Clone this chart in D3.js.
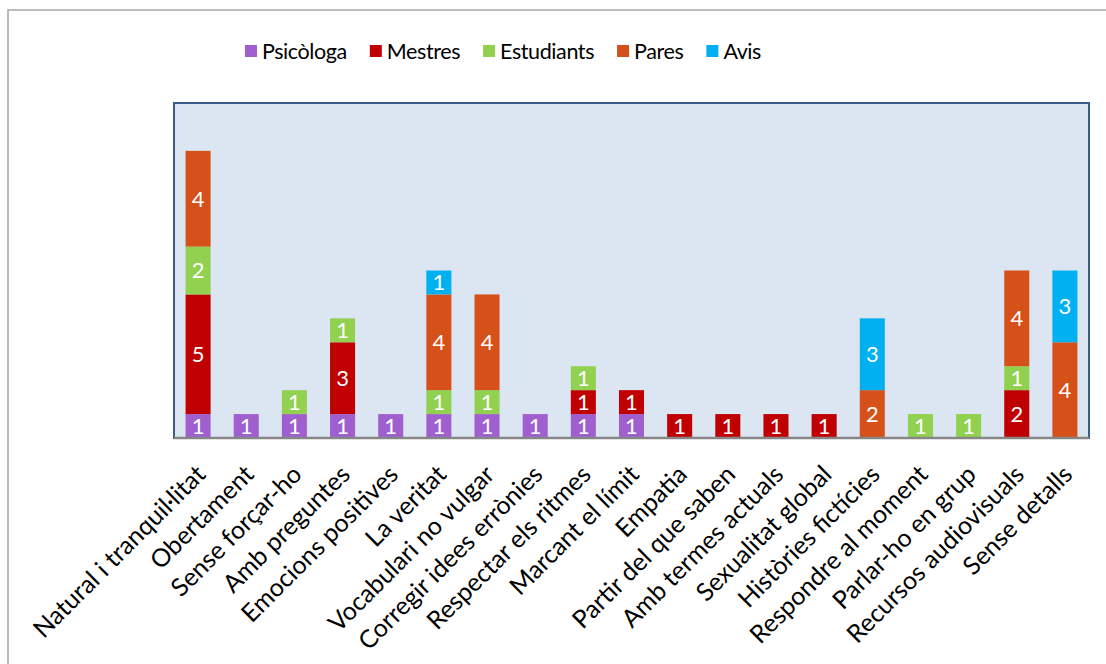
<!DOCTYPE html>
<html>
<head>
<meta charset="utf-8">
<script src="https://cdn.jsdelivr.net/npm/d3@7"></script>
<style>
  html, body { margin: 0; padding: 0; background: #fff; }
  svg { display: block; }
  text { font-family: Lato, "Open Sans", sans-serif; }
</style>
</head>
<body>
<svg id="chart" width="1106" height="664"></svg>
<script>
const categories = [
  "Natural i tranquil·litat", "Obertament", "Sense forçar-ho", "Amb preguntes",
  "Emocions positives", "La veritat", "Vocabulari no vulgar", "Corregir idees errònies",
  "Respectar els  ritmes", "Marcant el límit", "Empatia", "Partir del que saben",
  "Amb termes actuals", "Sexualitat global", "Històries fictícies", "Respondre al moment",
  "Parlar-ho en grup", "Recursos audiovisuals", "Sense detalls"
];
const seriesNames = ["Psicòloga", "Mestres", "Estudiants", "Pares", "Avis"];
const psicologa  = [1,1,1,1,1,1,1,1,1,1,0,0,0,0,0,0,0,0,0];
const mestres    = [5,0,0,3,0,0,0,0,1,1,1,1,1,1,0,0,0,2,0];
const estudiants = [2,0,1,1,0,1,1,0,1,0,0,0,0,0,0,1,1,1,0];
const pares      = [4,0,0,0,0,4,4,0,0,0,0,0,0,0,2,0,0,4,4];
const avis       = [0,0,0,0,0,1,0,0,0,0,0,0,0,0,3,0,0,0,3];
const colors = ["#A05FCE", "#C00000", "#92D050", "#D6511A", "#00B0F0"];
const yDomain = [0, 14];

const seriesValues = [psicologa, mestres, estudiants, pares, avis];
const table = categories.map((c, i) => {
  const row = { cat: c };
  seriesNames.forEach((s, k) => row[s] = seriesValues[k][i]);
  return row;
});

const svg = d3.select("#chart");
const plot = { left: 174, top: 103, right: 1089, bottom: 438 };

// outer chart border
svg.append("rect")
  .attr("x", 8).attr("y", 10).attr("width", 1120).attr("height", 700)
  .attr("fill", "#fff").attr("stroke", "#A6A6A6").attr("stroke-width", 1.5);

const x = d3.scaleBand().domain(categories)
  .range([plot.left, plot.right]).paddingInner(0.48).paddingOuter(0.24);
const y = d3.scaleLinear().domain(yDomain).range([plot.bottom, plot.top]);

// plot area
svg.append("rect")
  .attr("x", plot.left).attr("y", plot.top)
  .attr("width", plot.right - plot.left).attr("height", plot.bottom - plot.top)
  .attr("fill", "#DCE6F2").attr("stroke", "#385D8A").attr("stroke-width", 2);

const stack = d3.stack().keys(seriesNames)(table);

const g = svg.append("g");
stack.forEach((layer, k) => {
  const lg = g.append("g").attr("fill", colors[k]);
  layer.forEach((d, i) => {
    const v = d[1] - d[0];
    if (v <= 0) return;
    const cat = categories[i];
    lg.append("rect")
      .attr("x", x(cat)).attr("width", x.bandwidth())
      .attr("y", y(d[1])).attr("height", y(d[0]) - y(d[1]));
    g.append("text")
      .attr("x", x(cat) + x.bandwidth() / 2)
      .attr("y", (y(d[0]) + y(d[1])) / 2)
      .attr("dy", "0.36em")
      .attr("text-anchor", "middle")
      .attr("fill", "#fff")
      .attr("font-size", 22)
      .text(v);
  });
});

// x axis
const xAxis = d3.axisBottom(x).tickSize(0).tickPadding(0);
const ax = svg.append("g").attr("transform", `translate(0,${plot.bottom})`).call(xAxis);
ax.select(".domain").attr("stroke", "#868686").attr("stroke-width", 2.5)
  .attr("d", `M${plot.left},0H${plot.right}`);
ax.selectAll(".tick text")
  .attr("font-family", "Lato, 'Open Sans', sans-serif")
  .attr("font-size", 25)
  .attr("fill", "#000")
  .attr("text-anchor", "end")
  .attr("y", 0).attr("dy", 0)
  .attr("transform", "translate(9,38) rotate(-45)");

// legend
const legend = svg.append("g");
let lx = 0;
seriesNames.forEach((s, k) => {
  const it = legend.append("g");
  it.append("rect").attr("x", 0).attr("y", -6).attr("width", 12).attr("height", 12).attr("fill", colors[k]);
  const t = it.append("text").attr("x", 17).attr("y", 0).attr("dy", "0.36em")
    .attr("font-size", 21.5).attr("letter-spacing", -0.4).attr("fill", "#000").text(s);
  const w = 17 + t.node().getComputedTextLength();
  it.attr("transform", `translate(${lx},0)`);
  lx += w + 23;
});
const totalW = lx - 23;
legend.attr("transform", `translate(${503 - totalW / 2},51)`);
</script>
</body>
</html>
